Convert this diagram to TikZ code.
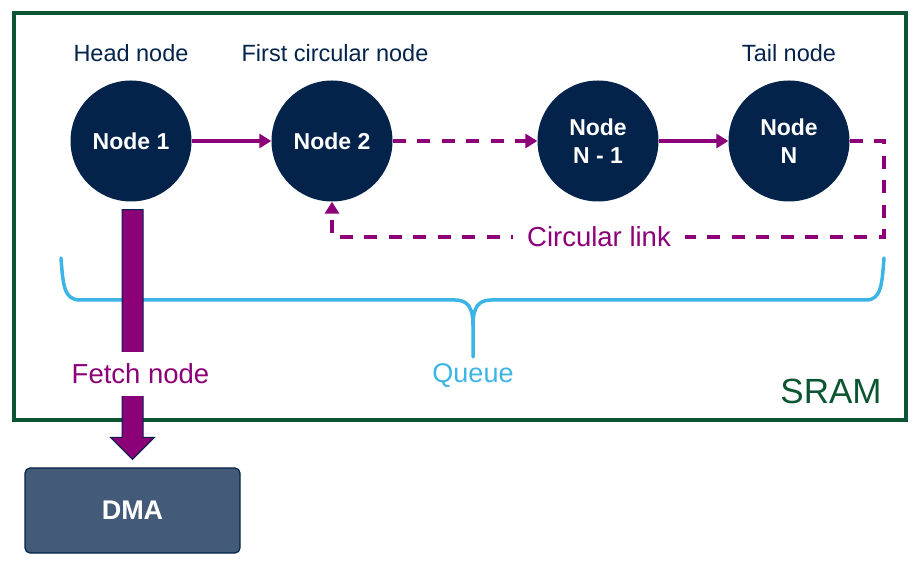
\documentclass[tikz,border=0pt]{standalone}
\usepackage{fontspec}
\setmainfont{Liberation Sans}
\usetikzlibrary{arrows.meta,positioning,calc}

\definecolor{stnavy}{HTML}{03234B}
\definecolor{stpurple}{HTML}{8C0078}
\definecolor{stgreen}{HTML}{0B5532}
\definecolor{stlblue}{HTML}{3CB4E6}
\definecolor{dmafill}{HTML}{435A78}

\begin{document}
\begin{tikzpicture}[x=1pt,y=1pt,
    qnode/.style={circle,fill=stnavy,text=white,minimum size=121pt,inner sep=0pt,
                  align=center,font=\fontsize{23}{28}\selectfont\bfseries},
    caption/.style={text=stnavy,inner sep=0pt,font=\fontsize{23.5}{28}\selectfont},
    link/.style={-{Triangle[length=12pt,width=14pt]},line width=3.6pt,draw=stpurple},
    dashlink/.style={link,dash pattern=on 13pt off 11.5pt},
    brace/.style={draw=stlblue,line width=3.5pt,line cap=round},
    dmabox/.style={rectangle,rounded corners=5pt,fill=dmafill,draw=stnavy,line width=1.2pt,
                   minimum width=215pt,minimum height=85pt,text=white,
                   font=\fontsize{27}{32}\selectfont\bfseries}]
    \useasboundingbox (0,0) rectangle (920,570);

    % memory frame
    \draw[stgreen,line width=4pt] (14,150) rectangle (906,557);
    \node[text=stgreen,inner sep=0pt,font=\fontsize{35}{40}\selectfont] (sram) at (831,179) {SRAM};

    % queue nodes
    \node[qnode] (n1) at (131,429) {Node 1};
    \node[qnode] (n2) at (332,429) {Node 2};
    \node[qnode] (n3) at (598,429) {Node\\N - 1};
    \node[qnode] (n4) at (789,429) {Node\\N};

    \node[caption] (headlbl) at (131,517) {Head node};
    \node[caption] (firstlbl) at (335,517) {First circular node};
    \node[caption] (taillbl) at (789,517) {Tail node};

    \draw[link] (n1) -- (n2);
    \draw[dashlink] (n2) -- (n3);
    \draw[link] (n3) -- (n4);

    % circular link back to node 2
    \coordinate (loopc) at (884,333);
    \draw[dashlink] (n4.east) -- (n4.east -| loopc) -- (loopc) -- (loopc -| n2) -- (n2.south);
    \node[fill=white,text=stpurple,inner xsep=14pt,inner ysep=4pt,
          font=\fontsize{27.5}{32}\selectfont] (circlbl) at (599,333) {Circular link};

    % queue brace
    \draw[brace] (61,312) .. controls (63,285) and (64,270) .. (80,270) -- (455,270)
        .. controls (468,270) and (473,262) .. (473,245) -- (473,213);
    \draw[brace] (884,312) .. controls (882,285) and (881,270) .. (866,270) -- (491,270)
        .. controls (478,270) and (473,262) .. (473,245);
    \node[text=stlblue,font=\fontsize{27}{32}\selectfont] (queuelbl) at (473,194) {Queue};

    % fetch to DMA
    \node[dmabox] (dma) at (132.5,59.5) {DMA};
    \coordinate (ftop) at ([xshift=1.5pt,yshift=-8pt]n1.south);
    \coordinate (ftip) at ([yshift=8pt]dma.north);
    \filldraw[fill=stpurple,draw=stnavy,line width=1pt]
        let \p1=(ftop), \p2=(ftip) in
        (\x1-10.5pt,\y1) -- (\x1+10.5pt,\y1) -- (\x1+10.5pt,\y2+22pt) -- (\x1+22pt,\y2+22pt)
        -- (\x1,\y2) -- (\x1-22pt,\y2+22pt) -- (\x1-10.5pt,\y2+22pt) -- cycle;
    \node[fill=white,text=stpurple,inner xsep=3pt,inner ysep=12pt,
          font=\fontsize{27.5}{32}\selectfont] (fetchlbl) at (140.5,196) {Fetch node};
\end{tikzpicture}
\end{document}
